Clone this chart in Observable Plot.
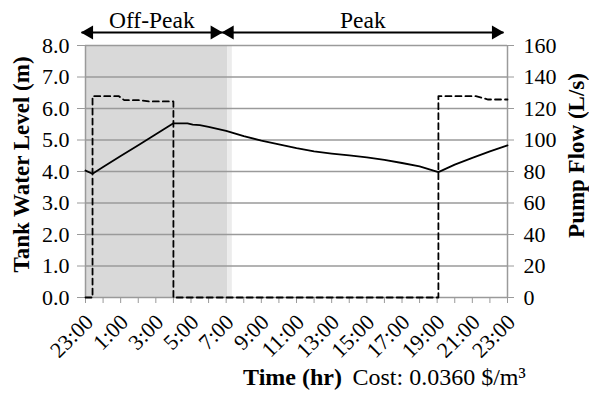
<!DOCTYPE html>
<html>
<head>
<meta charset="utf-8">
<script src="https://cdn.jsdelivr.net/npm/d3@7"></script>
<script src="https://cdn.jsdelivr.net/npm/@observablehq/plot@0.6"></script>
<style>
  html, body { margin: 0; padding: 0; background: #fff; }
  svg { display: block; }
</style>
</head>
<body>
<div id="chart"></div>
<script>
// ---- data (hours since 23:00) ----
const levelTime  = [0, 0.4, 1, 2, 3, 4, 5.0, 5.8, 6.1, 6.5, 7, 8, 9, 10, 11, 12, 13, 14, 15, 16, 17, 18, 19, 20.07, 21, 22, 23, 24];
const levelValue = [4.03, 3.93, 4.14, 4.49, 4.83, 5.18, 5.53, 5.53, 5.49, 5.47, 5.42, 5.29, 5.12, 4.98, 4.86, 4.74, 4.64, 4.57, 4.51, 4.45, 4.37, 4.27, 4.16, 3.98, 4.22, 4.43, 4.64, 4.83];

const flowTime  = [0, 0.4, 0.4, 1.9, 2.2, 3.1, 3.6, 5.0, 5.0, 20.07, 20.07, 22.2, 22.9, 24];
const flowValue = [0, 0, 127.8, 127.8, 125.3, 125.3, 124.5, 124.5, 0, 0, 127.8, 127.8, 125.7, 125.7];

const periodNames = ["Off-Peak", "Peak"];
const periodStart = [0, 8];
const periodEnd   = [8, 24];

const shadeStart = [0, 8.1];
const shadeEnd   = [8.1, 8.35];
const shadeColor = ["#d9d9d9", "#ececec"];

const hourTicks  = [0,1,2,3,4,5,6,7,8,9,10,11,12,13,14,15,16,17,18,19,20,21,22,23,24];
const labelTicks = [0, 2, 4, 6, 8, 10, 12, 14, 16, 18, 20, 22, 24];
const timeLabels = ["23:00","1:00","3:00","5:00","7:00","9:00","11:00","13:00","15:00","17:00","19:00","21:00","23:00"];

const levelTicks  = [0, 1, 2, 3, 4, 5, 6, 7, 8];
const levelLabels = ["0.0","1.0","2.0","3.0","4.0","5.0","6.0","7.0","8.0"];
const flowLabels  = ["0","20","40","60","80","100","120","140","160"];
const flowMax = 160, levelMax = 8;

const leftTitle  = "Tank Water Level (m)";
const rightTitle = "Pump Flow (L/s)";
const xTitle     = "Time (hr)";
const costText   = "Cost: 0.0360 $/m\u00B3";

// ---- tables built from arrays ----
const levelData = levelTime.map((t, i) => ({t, v: levelValue[i]}));
const flowData  = flowTime.map((t, i) => ({t, v: flowValue[i]}));
const periods   = periodNames.map((name, i) => ({name, s: periodStart[i], e: periodEnd[i]}));
const shades    = shadeStart.map((s, i) => ({s, e: shadeEnd[i], c: shadeColor[i]}));
const leftLab   = levelTicks.map((v, i) => ({v, label: levelLabels[i]}));
const rightLab  = levelTicks.map((v, i) => ({v, label: flowLabels[i]}));
const xLab      = labelTicks.map((t, i) => ({t, label: timeLabels[i]}));

const grid = "#9a9a9a";
const FF = "Liberation Serif";
const FS = 22;

const chart = Plot.plot({
  width: 589,
  height: 394,
  marginLeft: 85,
  marginRight: 82,
  marginTop: 45,
  marginBottom: 97,
  x: {domain: [0, 24]},
  y: {domain: [0, levelMax]},
  style: {fontFamily: FF, fontSize: FS + "px", background: "#fff", color: "#000"},
  marks: [
    Plot.rect(shades, {x1: "s", x2: "e", y1: 0, y2: levelMax, fill: "c"}),
    Plot.ruleY(levelTicks, {stroke: grid, strokeWidth: 1.5}),
    Plot.ruleX([0, 24], {stroke: grid, strokeWidth: 1.5}),
    // tick marks
    Plot.axisY(levelTicks, {anchor: "left", tickSize: 8, stroke: grid, tickFormat: () => "", label: null}),
    Plot.axisY(levelTicks, {anchor: "right", tickSize: 6, stroke: grid, tickFormat: () => "", label: null}),
    Plot.axisX(hourTicks, {tickSize: 6, stroke: grid, tickFormat: () => "", label: null}),
    // tick labels
    Plot.text(leftLab, {y: "v", text: "label", frameAnchor: "left", textAnchor: "end", lineAnchor: "middle", dx: -16, fontSize: FS, fontFamily: FF}),
    Plot.text(rightLab, {y: "v", text: "label", frameAnchor: "right", textAnchor: "start", lineAnchor: "middle", dx: 16, fontSize: FS, fontFamily: FF}),
    Plot.text(xLab, {x: "t", text: "label", frameAnchor: "bottom", textAnchor: "end", lineAnchor: "middle", rotate: -45, dx: 4, dy: 21, fontSize: FS, fontFamily: FF}),
    // series
    Plot.line(flowData, {x: "t", y: d => d.v / flowMax * levelMax, stroke: "#000", strokeWidth: 1.8, strokeDasharray: "6,4"}),
    Plot.line(levelData, {x: "t", y: "v", stroke: "#000", strokeWidth: 1.8}),
    // period header arrows
    Plot.link(periods, {x1: "s", x2: "e", y1: levelMax, y2: levelMax, dx: -4, dy: -13, stroke: "#000", strokeWidth: 2}),
    Plot.dot(periods, {x: "s", y: levelMax, dx: 3.5, dy: -13, symbol: "triangle", r: 5.2, rotate: -90, fill: "#000"}),
    Plot.dot(periods, {x: "e", y: levelMax, dx: -11.5, dy: -13, symbol: "triangle", r: 5.2, rotate: 90, fill: "#000"}),
    Plot.text(periods, {x: d => (d.s + d.e) / 2, frameAnchor: "top", lineAnchor: "middle", dx: -4, dy: -25.5, text: "name", fontSize: 23.5, fontFamily: FF}),
    // axis titles
    Plot.text([leftTitle], {frameAnchor: "left", textAnchor: "middle", lineAnchor: "middle", rotate: -90, dx: -64, dy: -7, fontWeight: "bold", fontSize: 23, fontFamily: FF}),
    Plot.text([rightTitle], {frameAnchor: "right", textAnchor: "middle", lineAnchor: "middle", rotate: -90, dx: 69, dy: -16, fontWeight: "bold", fontSize: 23, fontFamily: FF}),
    Plot.text([xTitle], {frameAnchor: "bottom", textAnchor: "middle", lineAnchor: "middle", dx: -4, dy: 80, fontWeight: "bold", fontSize: 24, fontFamily: FF}),
    Plot.text([costText], {frameAnchor: "bottom", textAnchor: "start", lineAnchor: "middle", dx: 56, dy: 80, fontSize: 24, fontFamily: FF})
  ]
});
document.getElementById("chart").appendChild(chart);
</script>
</body>
</html>
